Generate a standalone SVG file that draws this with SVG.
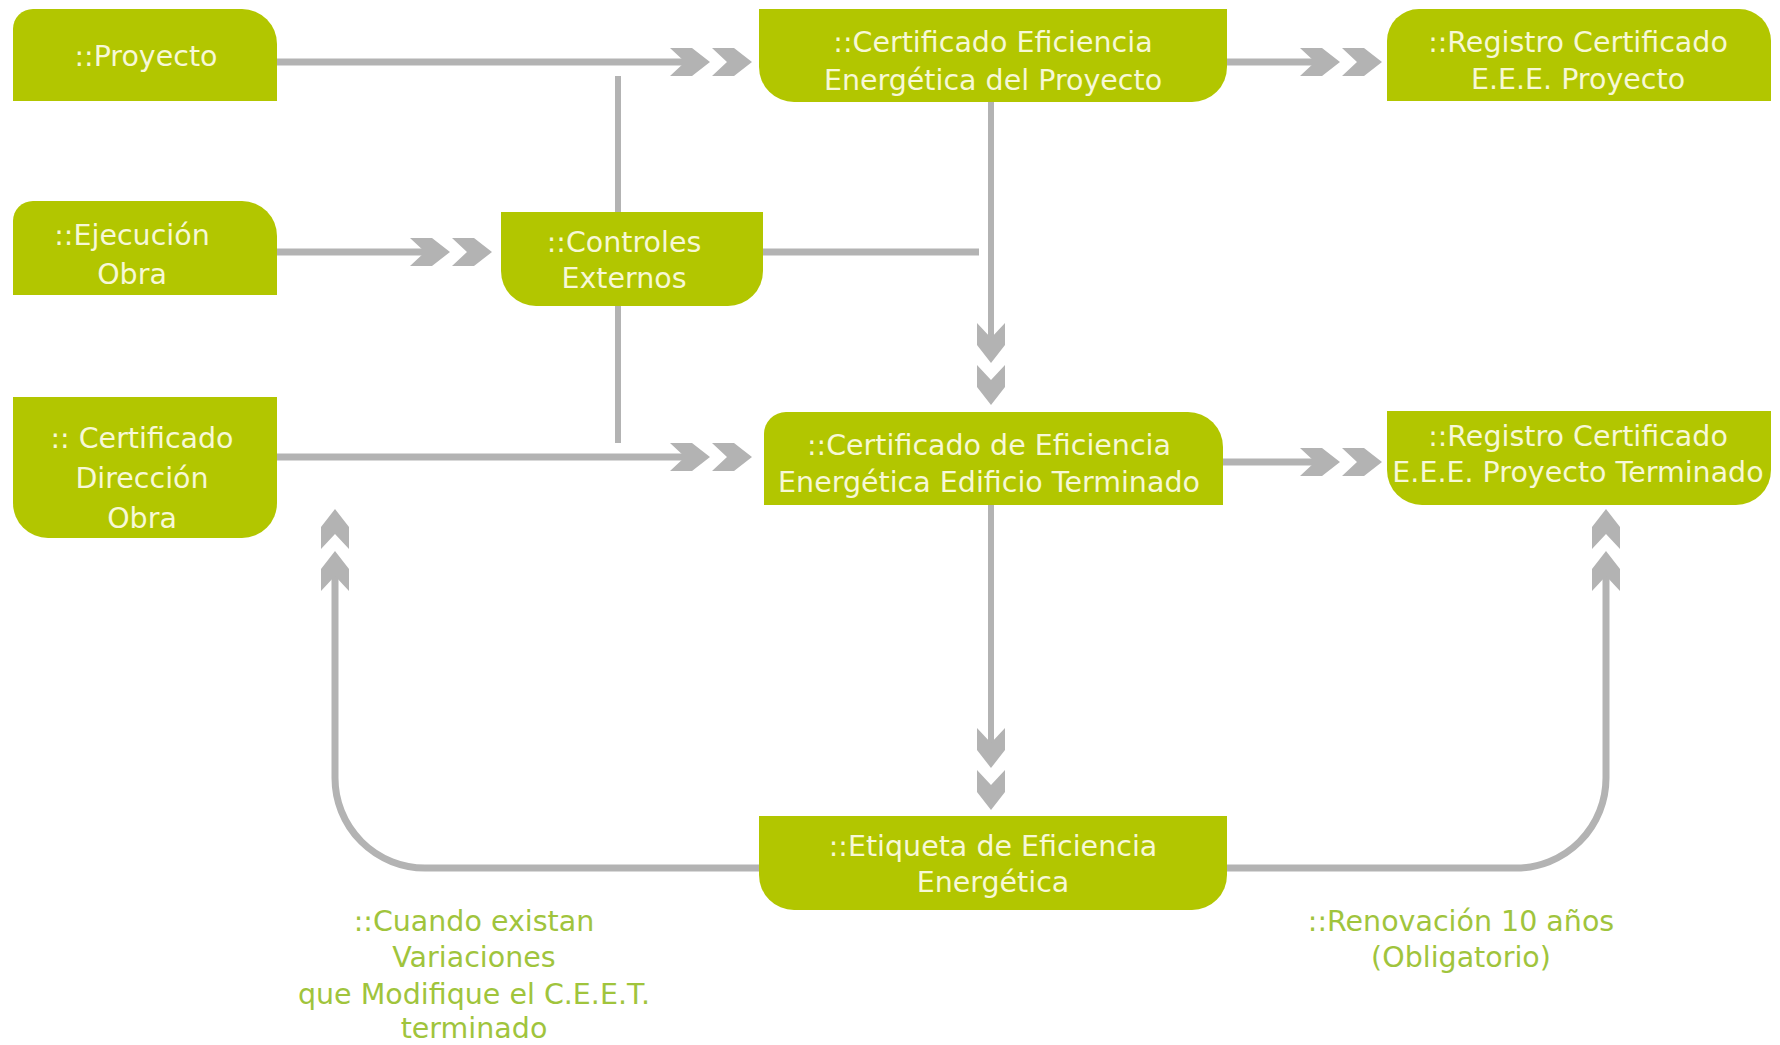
<svg xmlns="http://www.w3.org/2000/svg" xmlns:xlink="http://www.w3.org/1999/xlink" width="1780" height="1045" viewBox="0 0 1780 1045">
<style>
.node{fill:#b2c600}
.nt{font-family:"DejaVu Sans","Open Sans",sans-serif;font-size:28.5px;fill:#f7f8d6;text-anchor:middle}
.lbl{font-family:"DejaVu Sans","Open Sans",sans-serif;font-size:28.5px;fill:#a0c43c;text-anchor:middle}
.ln{fill:none;stroke:#b3b3b3;stroke-width:7}
.thin{stroke-width:6}
.chev{fill:#b3b3b3}
</style>
<defs>
<g id="dbl" class="chev">
<path d="M0,-14 H22 L40,0 L22,14 H0 L15,0 Z"/>
<path transform="translate(42,0)" d="M0,-14 H22 L40,0 L22,14 H0 L15,0 Z"/>
</g>
</defs>
<rect width="1780" height="1045" fill="#ffffff"/>
<g id="connectors">
<path class="ln" d="M277 62 H686"/>
<path class="ln" d="M1227 62 H1316"/>
<path class="ln" d="M277 252 H426"/>
<path class="ln" d="M763 252 H979"/>
<path class="ln thin" d="M618 76 V212"/>
<path class="ln thin" d="M618 306 V443"/>
<path class="ln thin" d="M991 102 V340"/>
<path class="ln" d="M277 457 H686"/>
<path class="ln" d="M1223 462 H1316"/>
<path class="ln thin" d="M991 505 V744"/>
<path class="ln" d="M759 868 H425 A90 90 0 0 1 335 778 V575"/>
<path class="ln" d="M1227 868 H1516 A90 90 0 0 0 1606 778 V575"/>
<use xlink:href="#dbl" transform="translate(670,62)"/>
<use xlink:href="#dbl" transform="translate(1300,62)"/>
<use xlink:href="#dbl" transform="translate(410,252)"/>
<use xlink:href="#dbl" transform="translate(670,457)"/>
<use xlink:href="#dbl" transform="translate(1300,462)"/>
<use xlink:href="#dbl" transform="translate(991,323) rotate(90)"/>
<use xlink:href="#dbl" transform="translate(991,728) rotate(90)"/>
<use xlink:href="#dbl" transform="translate(335,591) rotate(-90)"/>
<use xlink:href="#dbl" transform="translate(1606,591) rotate(-90)"/>
</g>
<g id="n-proyecto">
<path class="node" d="M13 101 V29 A20 20 0 0 1 33 9 H242 A35 35 0 0 1 277 44 V101 Z"/>
<text class="nt" x="146" y="66">::Proyecto</text>
</g>
<g id="n-ejecucion">
<path class="node" d="M13 295 V221 A20 20 0 0 1 33 201 H242 A35 35 0 0 1 277 236 V295 Z"/>
<text class="nt" x="132" y="245">::Ejecución</text>
<text class="nt" x="132" y="284">Obra</text>
</g>
<g id="n-cdo">
<path class="node" d="M13 397 H277 V503 A35 35 0 0 1 242 538 H48 A35 35 0 0 1 13 503 Z"/>
<text class="nt" x="142" y="448">:: Certificado</text>
<text class="nt" x="142" y="488">Dirección</text>
<text class="nt" x="142" y="528">Obra</text>
</g>
<g id="n-controles">
<path class="node" d="M501 212 H763 V271 A35 35 0 0 1 728 306 H536 A35 35 0 0 1 501 271 Z"/>
<text class="nt" x="624" y="252">::Controles</text>
<text class="nt" x="624" y="288">Externos</text>
</g>
<g id="n-ceep">
<path class="node" d="M759 9 H1227 V67 A35 35 0 0 1 1192 102 H794 A35 35 0 0 1 759 67 Z"/>
<text class="nt" x="993" y="52">::Certificado Eficiencia</text>
<text class="nt" x="993" y="90">Energética del Proyecto</text>
</g>
<g id="n-regp">
<path class="node" d="M1387 101 V41 A32 32 0 0 1 1419 9 H1739 A32 32 0 0 1 1771 41 V101 Z"/>
<text class="nt" x="1578" y="52">::Registro Certificado</text>
<text class="nt" x="1578" y="89">E.E.E. Proyecto</text>
</g>
<g id="n-ceeet">
<path class="node" d="M764 505 V434 A22 22 0 0 1 786 412 H1188 A35 35 0 0 1 1223 447 V505 Z"/>
<text class="nt" x="989" y="455">::Certificado de Eficiencia</text>
<text class="nt" x="989" y="492">Energética Edificio Terminado</text>
</g>
<g id="n-regt">
<path class="node" d="M1387 411 H1771 V470 A35 35 0 0 1 1736 505 H1422 A35 35 0 0 1 1387 470 Z"/>
<text class="nt" x="1578" y="446">::Registro Certificado</text>
<text class="nt" x="1578" y="482">E.E.E. Proyecto Terminado</text>
</g>
<g id="n-etiqueta">
<path class="node" d="M759 816 H1227 V875 A35 35 0 0 1 1192 910 H794 A35 35 0 0 1 759 875 Z"/>
<text class="nt" x="993" y="856">::Etiqueta de Eficiencia</text>
<text class="nt" x="993" y="892">Energética</text>
</g>
<g id="labels">
<text class="lbl" x="474" y="931">::Cuando existan</text>
<text class="lbl" x="474" y="967">Variaciones</text>
<text class="lbl" x="474" y="1004">que Modifique el C.E.E.T.</text>
<text class="lbl" x="474" y="1038">terminado</text>
<text class="lbl" x="1461" y="931">::Renovación 10 años</text>
<text class="lbl" x="1461" y="967">(Obligatorio)</text>
</g>
</svg>
